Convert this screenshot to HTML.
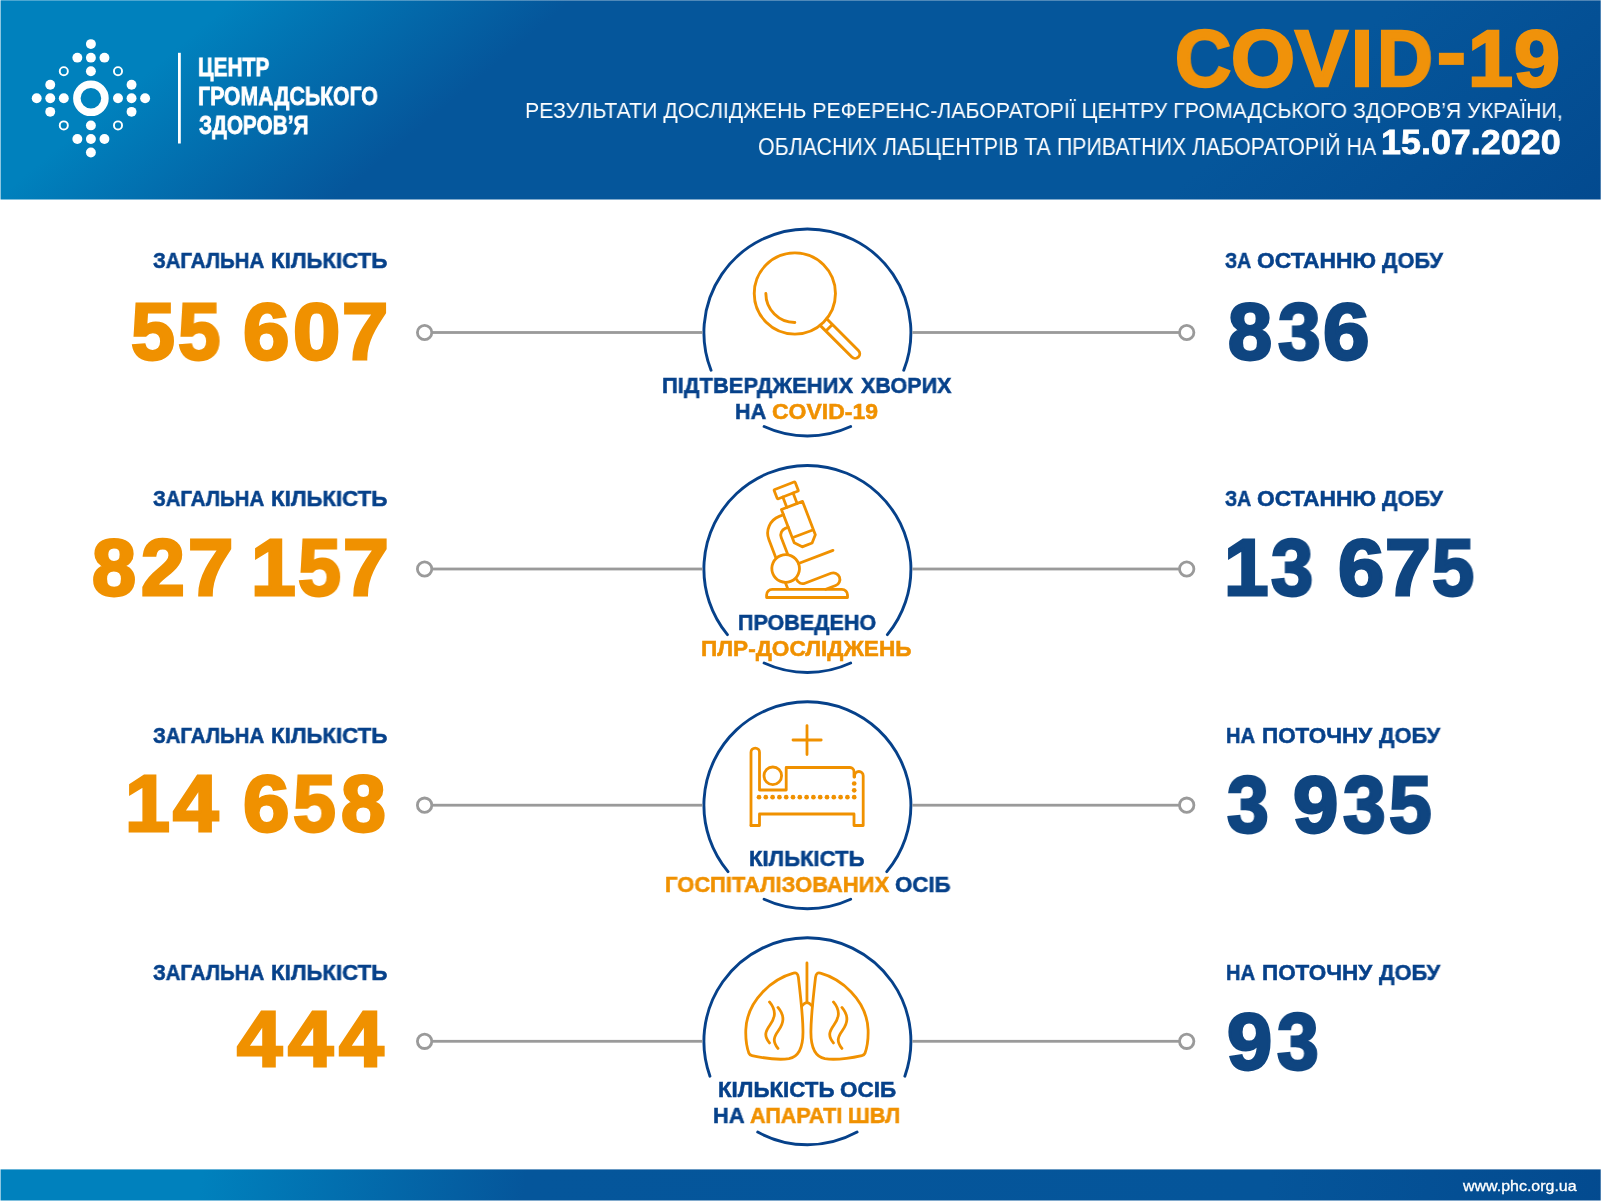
<!DOCTYPE html>
<html lang="uk"><head><meta charset="utf-8"><title>COVID-19</title>
<style>
html,body{margin:0;padding:0;background:#fff}
body{width:1601px;height:1201px;position:relative;overflow:hidden;font-family:"Liberation Sans",sans-serif}
#hdr{position:absolute;left:0;top:0;width:1601px;height:200px;background:linear-gradient(140deg,#0081BD 0px,#0081BD 150px,#05569B 368px,#05569B 900px,#034A8F 1182px)}
#ftr{position:absolute;left:0;top:1169px;width:1601px;height:32px;background:linear-gradient(100deg,#0081BD 0px,#0081BD 200px,#05569B 520px,#05559A 1250px,#034A8F 1600px)}
.t{position:absolute;white-space:pre;line-height:1;transform-origin:0 0;will-change:transform}
svg{position:absolute;left:0;top:0}
.edge{position:absolute;background:#fff}
</style></head><body>
<div id="hdr"></div><div id="ftr"></div>
<svg width="1601" height="1201" viewBox="0 0 1601 1201">
<circle cx="90.90" cy="44.10" r="4.95" fill="#fff"/>
<circle cx="77.35" cy="57.65" r="4.95" fill="#fff"/>
<circle cx="90.90" cy="57.65" r="4.95" fill="#fff"/>
<circle cx="104.45" cy="57.65" r="4.95" fill="#fff"/>
<circle cx="90.90" cy="71.20" r="4.95" fill="#fff"/>
<circle cx="90.90" cy="152.50" r="4.95" fill="#fff"/>
<circle cx="77.35" cy="138.95" r="4.95" fill="#fff"/>
<circle cx="90.90" cy="138.95" r="4.95" fill="#fff"/>
<circle cx="104.45" cy="138.95" r="4.95" fill="#fff"/>
<circle cx="90.90" cy="125.40" r="4.95" fill="#fff"/>
<circle cx="36.70" cy="98.30" r="4.95" fill="#fff"/>
<circle cx="50.25" cy="84.75" r="4.95" fill="#fff"/>
<circle cx="50.25" cy="98.30" r="4.95" fill="#fff"/>
<circle cx="50.25" cy="111.85" r="4.95" fill="#fff"/>
<circle cx="63.80" cy="98.30" r="4.95" fill="#fff"/>
<circle cx="145.10" cy="98.30" r="4.95" fill="#fff"/>
<circle cx="131.55" cy="84.75" r="4.95" fill="#fff"/>
<circle cx="131.55" cy="98.30" r="4.95" fill="#fff"/>
<circle cx="131.55" cy="111.85" r="4.95" fill="#fff"/>
<circle cx="118.00" cy="98.30" r="4.95" fill="#fff"/>
<circle cx="63.80" cy="71.20" r="4.05" fill="none" stroke="#fff" stroke-width="1.9"/>
<circle cx="118.00" cy="71.20" r="4.05" fill="none" stroke="#fff" stroke-width="1.9"/>
<circle cx="63.80" cy="125.40" r="4.05" fill="none" stroke="#fff" stroke-width="1.9"/>
<circle cx="118.00" cy="125.40" r="4.05" fill="none" stroke="#fff" stroke-width="1.9"/>
<circle cx="90.9" cy="98.3" r="14.05" fill="none" stroke="#fff" stroke-width="7.5"/>
<rect x="178" y="52.8" width="2.8" height="90.7" fill="#fff"/>
<rect x="1438.9" y="52.8" width="24.9" height="12.1" fill="#F0920A"/>
<path d="M711.04,370.26 A103.5,103.5 0 1 1 903.76,370.26" fill="none" stroke="#06418A" stroke-width="2.9" stroke-linecap="round"/>
<path d="M764.10,426.51 A103.5,103.5 0 0 0 850.70,426.51" fill="none" stroke="#06418A" stroke-width="2.9" stroke-linecap="round"/>
<rect x="432" y="331.10" width="270.50" height="2.8" fill="#9A9A9A"/>
<rect x="912.30" y="331.10" width="266.70" height="2.8" fill="#9A9A9A"/>
<circle cx="424.6" cy="332.5" r="7.2" fill="#fff" stroke="#9A9A9A" stroke-width="2.8"/>
<circle cx="1186.7" cy="332.5" r="7.2" fill="#fff" stroke="#9A9A9A" stroke-width="2.8"/>
<path d="M727.42,634.69 A103.5,103.5 0 1 1 887.38,634.69" fill="none" stroke="#06418A" stroke-width="2.9" stroke-linecap="round"/>
<path d="M764.10,663.01 A103.5,103.5 0 0 0 850.70,663.01" fill="none" stroke="#06418A" stroke-width="2.9" stroke-linecap="round"/>
<rect x="432" y="567.60" width="270.50" height="2.8" fill="#9A9A9A"/>
<rect x="912.30" y="567.60" width="266.70" height="2.8" fill="#9A9A9A"/>
<circle cx="424.6" cy="569.0" r="7.2" fill="#fff" stroke="#9A9A9A" stroke-width="2.8"/>
<circle cx="1186.7" cy="569.0" r="7.2" fill="#fff" stroke="#9A9A9A" stroke-width="2.8"/>
<path d="M728.00,871.59 A103.5,103.5 0 1 1 886.80,871.59" fill="none" stroke="#06418A" stroke-width="2.9" stroke-linecap="round"/>
<path d="M764.10,899.21 A103.5,103.5 0 0 0 850.70,899.21" fill="none" stroke="#06418A" stroke-width="2.9" stroke-linecap="round"/>
<rect x="432" y="803.80" width="270.50" height="2.8" fill="#9A9A9A"/>
<rect x="912.30" y="803.80" width="266.70" height="2.8" fill="#9A9A9A"/>
<circle cx="424.6" cy="805.2" r="7.2" fill="#fff" stroke="#9A9A9A" stroke-width="2.8"/>
<circle cx="1186.7" cy="805.2" r="7.2" fill="#fff" stroke="#9A9A9A" stroke-width="2.8"/>
<path d="M709.96,1076.19 A103.5,103.5 0 1 1 904.84,1076.19" fill="none" stroke="#06418A" stroke-width="2.9" stroke-linecap="round"/>
<path d="M757.70,1132.09 A103.5,103.5 0 0 0 857.10,1132.09" fill="none" stroke="#06418A" stroke-width="2.9" stroke-linecap="round"/>
<rect x="432" y="1039.90" width="270.50" height="2.8" fill="#9A9A9A"/>
<rect x="912.30" y="1039.90" width="266.70" height="2.8" fill="#9A9A9A"/>
<circle cx="424.6" cy="1041.3" r="7.2" fill="#fff" stroke="#9A9A9A" stroke-width="2.8"/>
<circle cx="1186.7" cy="1041.3" r="7.2" fill="#fff" stroke="#9A9A9A" stroke-width="2.8"/>
<g fill="none" stroke="#F09100" stroke-linecap="round" stroke-linejoin="round" stroke-width="2.9" transform="translate(794.85,293.5)"><circle r="40.6"/><path d="M-29,0 A29,29 0 0 0 0,29"/><g transform="rotate(45)"><path d="M40.4,-4.65 H85.2 A4.65,4.65 0 0 1 85.2,4.65 H40.4 M48.5,-4.65 V4.65"/></g></g>
<g fill="none" stroke="#F09100" stroke-linecap="round" stroke-linejoin="round" stroke-width="2.8"><g transform="translate(791.98,505.45) rotate(-21)"><rect x="-11.3" y="-21.1" width="22.6" height="9.9" rx="1"/><path d="M-5.5,-11.2 V0 M5.5,-11.2 V0"/><path d="M-11.3,0 H11.3 V35.7 L5.3,42.3 H-5.3 L-11.3,35.7 Z M-11.3,30.3 H11.3"/><path d="M-11.3,5.6 H-15.8 A18,18 0 0 0 -33.8,23.6 V43.5 M-11.3,19 H-14.5 A7,7 0 0 0 -21.5,26 V43.5"/><circle cx="-28.5" cy="56.6" r="13.8"/><path d="M-14.7,56.6 H22.2"/><path d="M-22.2,70.6 A6.5,6.5 0 0 0 -15.8,77.3 H12.1 A6.55,6.55 0 0 1 12.1,90.4 H1.5"/><path d="M-33.8,69.5 V76"/></g><path d="M766.6,597.5 V595 A5.6,5.6 0 0 1 772.2,589.4 H841.9 A5.6,5.6 0 0 1 847.5,595 V597.5 Z"/></g>
<g fill="none" stroke="#F09100" stroke-linecap="round" stroke-linejoin="round" stroke-width="2.8"><path d="M807,725.6 V754.6 M793,740 H821.2"/><path d="M751,825.5 V752.3 A4.25,4.25 0 0 1 759.5,752.3 V790 H786.2 V767.5 H850 A4,4 0 0 1 854,771.5 V777"/><path d="M854.6,777 V775.8 A4.3,4.3 0 0 1 863.2,775.8 V825.5 H854 V814 H759.5 V825.5 H751"/><circle cx="772.8" cy="775.8" r="8.8"/><g fill="#F09100" stroke="none"><circle cx="759.0" cy="797.2" r="2.35"/><circle cx="765.8" cy="797.2" r="2.35"/><circle cx="772.6" cy="797.2" r="2.35"/><circle cx="779.4" cy="797.2" r="2.35"/><circle cx="786.2" cy="797.2" r="2.35"/><circle cx="793.0" cy="797.2" r="2.35"/><circle cx="799.8" cy="797.2" r="2.35"/><circle cx="806.6" cy="797.2" r="2.35"/><circle cx="813.4" cy="797.2" r="2.35"/><circle cx="820.2" cy="797.2" r="2.35"/><circle cx="827.0" cy="797.2" r="2.35"/><circle cx="833.8" cy="797.2" r="2.35"/><circle cx="840.6" cy="797.2" r="2.35"/><circle cx="847.4" cy="797.2" r="2.35"/><circle cx="854.2" cy="797.2" r="2.35"/><circle cx="854.2" cy="783.5" r="2.35"/><circle cx="854.2" cy="790.3" r="2.35"/></g></g>
<g fill="none" stroke="#F09100" stroke-linecap="round" stroke-linejoin="round" stroke-width="28" transform="translate(735,950) scale(0.09993)"><path d="M585,232 C390,285 120,490 108,800 C105,900 120,980 140,1035 Q148,1052 170,1056 C300,1085 450,1100 540,1088 C640,1070 685,980 680,800 C678,650 655,450 634,272 Q626,218 585,232 Z"/><g transform="translate(1440,0) scale(-1,1)"><path d="M585,232 C390,285 120,490 108,800 C105,900 120,980 140,1035 Q148,1052 170,1056 C300,1085 450,1100 540,1088 C640,1070 685,980 680,800 C678,650 655,450 634,272 Q626,218 585,232 Z"/></g><path d="M345,520 C420,610 400,680 350,750 C300,820 290,860 345,930"/><path d="M430,575 C505,665 485,735 435,805 C385,875 375,915 430,985"/><g transform="translate(640,0)"><path d="M345,520 C420,610 400,680 350,750 C300,820 290,860 345,930"/><path d="M430,575 C505,665 485,735 435,805 C385,875 375,915 430,985"/></g><path d="M720,130 V525 M670,560 Q720,495 770,560"/></g>
</svg>
<div class="t" id="logo1" style="left:198.21px;top:53.78px;font-size:26.6px;font-weight:700;color:#fff;-webkit-text-stroke:0.8px;transform:scaleX(0.7910)">ЦЕНТР</div>
<div class="t" id="logo2" style="left:198.20px;top:83.13px;font-size:26.31px;font-weight:700;color:#fff;-webkit-text-stroke:0.8px;transform:scaleX(0.8082)">ГРОМАДСЬКОГО</div>
<div class="t" id="logo3" style="left:199.00px;top:112.26px;font-size:26.16px;font-weight:700;color:#fff;-webkit-text-stroke:0.8px;transform:scaleX(0.7942)">ЗДОРОВ’Я</div>
<div class="t" id="tiC" style="left:1175.22px;top:18.54px;font-size:79.22px;font-weight:700;color:#F0920A;-webkit-text-stroke:2.6px;transform:scaleX(0.9817)">C</div>
<div class="t" id="tiO" style="left:1230.92px;top:18.54px;font-size:79.22px;font-weight:700;color:#F0920A;-webkit-text-stroke:2.6px;transform:scaleX(1.0380)">O</div>
<div class="t" id="tiV" style="left:1295.40px;top:18.54px;font-size:79.22px;font-weight:700;color:#F0920A;-webkit-text-stroke:2.6px;transform:scaleX(1.0038)">V</div>
<div class="t" id="tiI" style="left:1350.54px;top:18.54px;font-size:79.22px;font-weight:700;color:#F0920A;-webkit-text-stroke:2.6px;transform:scaleX(0.9878)">I</div>
<div class="t" id="tiD" style="left:1377.26px;top:18.54px;font-size:79.22px;font-weight:700;color:#F0920A;-webkit-text-stroke:2.6px;transform:scaleX(0.9766)">D</div>
<div class="t" id="ti1" style="left:1467.73px;top:18.54px;font-size:79.22px;font-weight:700;color:#F0920A;-webkit-text-stroke:2.6px;transform:scaleX(1.0207)">1</div>
<div class="t" id="ti9" style="left:1513.56px;top:18.54px;font-size:79.22px;font-weight:700;color:#F0920A;-webkit-text-stroke:2.6px;transform:scaleX(1.0441)">9</div>
<div class="t" id="sub1" style="left:525.15px;top:99.46px;font-size:22.97px;font-weight:400;color:#fff;transform:scaleX(0.9269)">РЕЗУЛЬТАТИ ДОСЛІДЖЕНЬ РЕФЕРЕНС-ЛАБОРАТОРІЇ ЦЕНТРУ ГРОМАДСЬКОГО ЗДОРОВ’Я УКРАЇНИ,</div>
<div class="t" id="sub2" style="left:757.88px;top:136.34px;font-size:23.11px;font-weight:400;color:#fff;transform:scaleX(0.9253)">ОБЛАСНИХ ЛАБЦЕНТРІВ ТА ПРИВАТНИХ ЛАБОРАТОРІЙ НА</div>
<div class="t" id="date" style="left:1381.16px;top:123.73px;font-size:35.17px;font-weight:700;color:#fff;-webkit-text-stroke:0.8px;transform:scaleX(1.0208)">15.07.2020</div>
<div class="t" id="url" style="left:1463.40px;top:1178.59px;font-size:14.6px;font-weight:400;color:#fff;-webkit-text-stroke:0.3px;transform:scaleX(1.0943)">www.phc.org.ua</div>
<div class="t" id="ll0w0" style="left:153.00px;top:249.61px;font-size:22.46px;font-weight:700;color:#06418A;-webkit-text-stroke:0.55px;transform:scaleX(0.9082)">ЗАГАЛЬНА</div>
<div class="t" id="ll0w1" style="left:271.21px;top:249.61px;font-size:22.46px;font-weight:700;color:#06418A;-webkit-text-stroke:0.55px;transform:scaleX(0.9914)">КІЛЬКІСТЬ</div>
<div class="t" id="ln0d0" style="left:130.81px;top:292.81px;font-size:78.78px;font-weight:700;color:#F09100;-webkit-text-stroke:2.8px;transform:scaleX(0.9907)">5</div>
<div class="t" id="ln0d1" style="left:178.03px;top:292.81px;font-size:78.78px;font-weight:700;color:#F09100;-webkit-text-stroke:2.8px;transform:scaleX(0.9667)">5</div>
<div class="t" id="ln0d2" style="left:243.24px;top:292.81px;font-size:78.78px;font-weight:700;color:#F09100;-webkit-text-stroke:2.8px;transform:scaleX(1.0604)">6</div>
<div class="t" id="ln0d3" style="left:292.86px;top:292.81px;font-size:78.78px;font-weight:700;color:#F09100;-webkit-text-stroke:2.8px;transform:scaleX(1.0803)">0</div>
<div class="t" id="ln0d4" style="left:341.71px;top:292.81px;font-size:78.78px;font-weight:700;color:#F09100;-webkit-text-stroke:2.8px;transform:scaleX(1.0553)">7</div>
<div class="t" id="rl0w0" style="left:1225.00px;top:249.61px;font-size:22.46px;font-weight:700;color:#06418A;-webkit-text-stroke:0.55px;transform:scaleX(0.8673)">ЗА</div>
<div class="t" id="rl0w1" style="left:1256.79px;top:249.61px;font-size:22.46px;font-weight:700;color:#06418A;-webkit-text-stroke:0.55px;transform:scaleX(1.0155)">ОСТАННЮ</div>
<div class="t" id="rl0w2" style="left:1382.40px;top:249.61px;font-size:22.46px;font-weight:700;color:#06418A;-webkit-text-stroke:0.55px;transform:scaleX(0.9684)">ДОБУ</div>
<div class="t" id="rn0d0" style="left:1227.79px;top:293.01px;font-size:78.78px;font-weight:700;color:#0F4580;-webkit-text-stroke:2.8px;transform:scaleX(1.0050)">8</div>
<div class="t" id="rn0d1" style="left:1277.80px;top:293.01px;font-size:78.78px;font-weight:700;color:#0F4580;-webkit-text-stroke:2.8px;transform:scaleX(0.9716)">3</div>
<div class="t" id="rn0d2" style="left:1322.65px;top:293.01px;font-size:78.78px;font-weight:700;color:#0F4580;-webkit-text-stroke:2.8px;transform:scaleX(1.0604)">6</div>
<div class="t" id="ll1w0" style="left:153.00px;top:488.01px;font-size:22.46px;font-weight:700;color:#06418A;-webkit-text-stroke:0.55px;transform:scaleX(0.9082)">ЗАГАЛЬНА</div>
<div class="t" id="ll1w1" style="left:271.21px;top:488.01px;font-size:22.46px;font-weight:700;color:#06418A;-webkit-text-stroke:0.55px;transform:scaleX(0.9914)">КІЛЬКІСТЬ</div>
<div class="t" id="ln1d0" style="left:91.79px;top:528.81px;font-size:78.78px;font-weight:700;color:#F09100;-webkit-text-stroke:2.8px;transform:scaleX(1.0050)">8</div>
<div class="t" id="ln1d1" style="left:141.41px;top:528.81px;font-size:78.78px;font-weight:700;color:#F09100;-webkit-text-stroke:2.8px;transform:scaleX(0.9953)">2</div>
<div class="t" id="ln1d2" style="left:187.94px;top:528.81px;font-size:78.78px;font-weight:700;color:#F09100;-webkit-text-stroke:2.8px;transform:scaleX(1.0350)">7</div>
<div class="t" id="ln1d3" style="left:250.53px;top:528.81px;font-size:78.78px;font-weight:700;color:#F09100;-webkit-text-stroke:2.8px;transform:scaleX(1.0207)">1</div>
<div class="t" id="ln1d4" style="left:297.62px;top:528.81px;font-size:78.78px;font-weight:700;color:#F09100;-webkit-text-stroke:2.8px;transform:scaleX(0.9811)">5</div>
<div class="t" id="ln1d5" style="left:342.51px;top:528.81px;font-size:78.78px;font-weight:700;color:#F09100;-webkit-text-stroke:2.8px;transform:scaleX(1.0452)">7</div>
<div class="t" id="rl1w0" style="left:1225.00px;top:488.01px;font-size:22.46px;font-weight:700;color:#06418A;-webkit-text-stroke:0.55px;transform:scaleX(0.8673)">ЗА</div>
<div class="t" id="rl1w1" style="left:1256.79px;top:488.01px;font-size:22.46px;font-weight:700;color:#06418A;-webkit-text-stroke:0.55px;transform:scaleX(1.0155)">ОСТАННЮ</div>
<div class="t" id="rl1w2" style="left:1382.40px;top:488.01px;font-size:22.46px;font-weight:700;color:#06418A;-webkit-text-stroke:0.55px;transform:scaleX(0.9684)">ДОБУ</div>
<div class="t" id="rn1d0" style="left:1223.76px;top:528.81px;font-size:78.78px;font-weight:700;color:#0F4580;-webkit-text-stroke:2.8px;transform:scaleX(1.0156)">1</div>
<div class="t" id="rn1d1" style="left:1271.00px;top:528.81px;font-size:78.78px;font-weight:700;color:#0F4580;-webkit-text-stroke:2.8px;transform:scaleX(0.9621)">3</div>
<div class="t" id="rn1d2" style="left:1337.69px;top:528.81px;font-size:78.78px;font-weight:700;color:#0F4580;-webkit-text-stroke:2.8px;transform:scaleX(1.0552)">6</div>
<div class="t" id="rn1d3" style="left:1385.11px;top:528.81px;font-size:78.78px;font-weight:700;color:#0F4580;-webkit-text-stroke:2.8px;transform:scaleX(1.0452)">7</div>
<div class="t" id="rn1d4" style="left:1432.43px;top:528.81px;font-size:78.78px;font-weight:700;color:#0F4580;-webkit-text-stroke:2.8px;transform:scaleX(0.9621)">5</div>
<div class="t" id="ll2w0" style="left:153.00px;top:725.21px;font-size:22.46px;font-weight:700;color:#06418A;-webkit-text-stroke:0.55px;transform:scaleX(0.9082)">ЗАГАЛЬНА</div>
<div class="t" id="ll2w1" style="left:271.21px;top:725.21px;font-size:22.46px;font-weight:700;color:#06418A;-webkit-text-stroke:0.55px;transform:scaleX(0.9914)">КІЛЬКІСТЬ</div>
<div class="t" id="ln2d0" style="left:124.70px;top:764.81px;font-size:78.78px;font-weight:700;color:#F09100;-webkit-text-stroke:2.8px;transform:scaleX(1.0256)">1</div>
<div class="t" id="ln2d1" style="left:172.80px;top:764.81px;font-size:78.78px;font-weight:700;color:#F09100;-webkit-text-stroke:2.8px;transform:scaleX(1.0359)">4</div>
<div class="t" id="ln2d2" style="left:243.24px;top:764.81px;font-size:78.78px;font-weight:700;color:#F09100;-webkit-text-stroke:2.8px;transform:scaleX(1.0604)">6</div>
<div class="t" id="ln2d3" style="left:293.44px;top:764.81px;font-size:78.78px;font-weight:700;color:#F09100;-webkit-text-stroke:2.8px;transform:scaleX(0.9765)">5</div>
<div class="t" id="ln2d4" style="left:340.80px;top:764.81px;font-size:78.78px;font-weight:700;color:#F09100;-webkit-text-stroke:2.8px;transform:scaleX(1.0192)">8</div>
<div class="t" id="rl2w0" style="left:1226.11px;top:725.21px;font-size:22.46px;font-weight:700;color:#06418A;-webkit-text-stroke:0.55px;transform:scaleX(0.8972)">НА</div>
<div class="t" id="rl2w1" style="left:1262.01px;top:725.21px;font-size:22.46px;font-weight:700;color:#06418A;-webkit-text-stroke:0.55px;transform:scaleX(0.9964)">ПОТОЧНУ</div>
<div class="t" id="rl2w2" style="left:1379.20px;top:725.21px;font-size:22.46px;font-weight:700;color:#06418A;-webkit-text-stroke:0.55px;transform:scaleX(0.9715)">ДОБУ</div>
<div class="t" id="rn2d0" style="left:1227.00px;top:766.01px;font-size:78.78px;font-weight:700;color:#0F4580;-webkit-text-stroke:2.8px;transform:scaleX(0.9527)">3</div>
<div class="t" id="rn2d1" style="left:1292.76px;top:766.01px;font-size:78.78px;font-weight:700;color:#0F4580;-webkit-text-stroke:2.8px;transform:scaleX(1.0344)">9</div>
<div class="t" id="rn2d2" style="left:1342.80px;top:766.01px;font-size:78.78px;font-weight:700;color:#0F4580;-webkit-text-stroke:2.8px;transform:scaleX(0.9716)">3</div>
<div class="t" id="rn2d3" style="left:1388.63px;top:766.01px;font-size:78.78px;font-weight:700;color:#0F4580;-webkit-text-stroke:2.8px;transform:scaleX(0.9716)">5</div>
<div class="t" id="ll3w0" style="left:153.00px;top:961.61px;font-size:22.46px;font-weight:700;color:#06418A;-webkit-text-stroke:0.55px;transform:scaleX(0.9082)">ЗАГАЛЬНА</div>
<div class="t" id="ll3w1" style="left:271.21px;top:961.61px;font-size:22.46px;font-weight:700;color:#06418A;-webkit-text-stroke:0.55px;transform:scaleX(0.9914)">КІЛЬКІСТЬ</div>
<div class="t" id="ln3d0" style="left:236.60px;top:999.96px;font-size:78.49px;font-weight:700;color:#F09100;-webkit-text-stroke:2.8px;transform:scaleX(1.0359)">4</div>
<div class="t" id="ln3d1" style="left:287.60px;top:999.96px;font-size:78.49px;font-weight:700;color:#F09100;-webkit-text-stroke:2.8px;transform:scaleX(1.0359)">4</div>
<div class="t" id="ln3d2" style="left:338.60px;top:999.96px;font-size:78.49px;font-weight:700;color:#F09100;-webkit-text-stroke:2.8px;transform:scaleX(1.0222)">4</div>
<div class="t" id="rl3w0" style="left:1226.11px;top:961.61px;font-size:22.46px;font-weight:700;color:#06418A;-webkit-text-stroke:0.55px;transform:scaleX(0.8972)">НА</div>
<div class="t" id="rl3w1" style="left:1262.01px;top:961.61px;font-size:22.46px;font-weight:700;color:#06418A;-webkit-text-stroke:0.55px;transform:scaleX(0.9964)">ПОТОЧНУ</div>
<div class="t" id="rl3w2" style="left:1379.20px;top:961.61px;font-size:22.46px;font-weight:700;color:#06418A;-webkit-text-stroke:0.55px;transform:scaleX(0.9715)">ДОБУ</div>
<div class="t" id="rn3d0" style="left:1226.56px;top:1002.79px;font-size:78.92px;font-weight:700;color:#0F4580;-webkit-text-stroke:2.8px;transform:scaleX(1.0294)">9</div>
<div class="t" id="rn3d1" style="left:1276.80px;top:1002.79px;font-size:78.92px;font-weight:700;color:#0F4580;-webkit-text-stroke:2.8px;transform:scaleX(0.9479)">3</div>
<div class="t" id="c0aw0" style="left:661.62px;top:374.84px;font-size:22.31px;font-weight:700;color:#06418A;-webkit-text-stroke:0.55px;transform:scaleX(0.9845)">ПІДТВЕРДЖЕНИХ</div>
<div class="t" id="c0aw1" style="left:860.60px;top:374.84px;font-size:22.31px;font-weight:700;color:#06418A;-webkit-text-stroke:0.55px;transform:scaleX(0.9660)">ХВОРИХ</div>
<div class="t" id="c0bw0" style="left:735.43px;top:400.71px;font-size:22.46px;font-weight:700;color:#06418A;-webkit-text-stroke:0.55px;transform:scaleX(0.9617)">НА</div>
<div class="t" id="c0bw1" style="left:771.78px;top:400.71px;font-size:22.46px;font-weight:700;color:#F09100;-webkit-text-stroke:0.55px;transform:scaleX(1.0235)">COVID-19</div>
<div class="t" id="c1aw0" style="left:737.84px;top:611.71px;font-size:22.46px;font-weight:700;color:#06418A;-webkit-text-stroke:0.55px;transform:scaleX(0.9580)">ПРОВЕДЕНО</div>
<div class="t" id="c1bw0" style="left:701.38px;top:637.74px;font-size:22.31px;font-weight:700;color:#F09100;-webkit-text-stroke:0.55px;transform:scaleX(1.0136)">ПЛР-ДОСЛІДЖЕНЬ</div>
<div class="t" id="c2aw0" style="left:749.01px;top:847.84px;font-size:22.31px;font-weight:700;color:#06418A;-webkit-text-stroke:0.55px;transform:scaleX(0.9913)">КІЛЬКІСТЬ</div>
<div class="t" id="c2bw0" style="left:664.62px;top:873.71px;font-size:22.46px;font-weight:700;color:#F09100;-webkit-text-stroke:0.55px;transform:scaleX(0.9781)">ГОСПІТАЛІЗОВАНИХ</div>
<div class="t" id="c2bw1" style="left:894.62px;top:873.71px;font-size:22.46px;font-weight:700;color:#06418A;-webkit-text-stroke:0.55px;transform:scaleX(0.9891)">ОСІБ</div>
<div class="t" id="c3aw0" style="left:718.40px;top:1078.84px;font-size:22.31px;font-weight:700;color:#06418A;-webkit-text-stroke:0.55px;transform:scaleX(0.9983)">КІЛЬКІСТЬ</div>
<div class="t" id="c3aw1" style="left:839.80px;top:1078.84px;font-size:22.31px;font-weight:700;color:#06418A;-webkit-text-stroke:0.55px;transform:scaleX(1.0074)">ОСІБ</div>
<div class="t" id="c3bw0" style="left:713.24px;top:1104.71px;font-size:22.46px;font-weight:700;color:#06418A;-webkit-text-stroke:0.55px;transform:scaleX(0.9747)">НА</div>
<div class="t" id="c3bw1" style="left:749.60px;top:1104.71px;font-size:22.46px;font-weight:700;color:#F09100;-webkit-text-stroke:0.55px;transform:scaleX(0.9600)">АПАРАТІ</div>
<div class="t" id="c3bw2" style="left:847.83px;top:1104.71px;font-size:22.46px;font-weight:700;color:#F09100;-webkit-text-stroke:0.55px;transform:scaleX(0.9655)">ШВЛ</div>
<div class="edge" style="left:0;top:199px;width:1601px;height:1px;opacity:.5"></div>
<div class="edge" style="left:0;top:1169px;width:1601px;height:1px;opacity:.4"></div>
<div class="edge" style="left:0;top:0;width:1px;height:1201px;opacity:.55"></div>
<div class="edge" style="left:0;top:0;width:1601px;height:1px;opacity:.3"></div>
<div class="edge" style="left:1600px;top:0;width:1px;height:1201px;opacity:.3"></div>
<div class="edge" style="left:0;top:1200px;width:1601px;height:1px;opacity:.5"></div>
</body></html>
